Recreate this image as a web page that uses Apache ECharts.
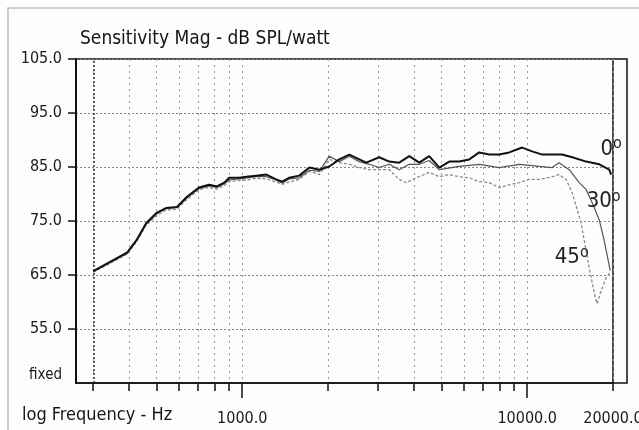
<!DOCTYPE html>
<html><head><meta charset="utf-8">
<script src="https://cdn.jsdelivr.net/npm/echarts@6/dist/echarts.min.js"></script>
<style>html,body{margin:0;padding:0;background:#fdfdfd}#c{width:639px;height:430px}</style>
</head><body><div id="c"></div>
<script>
// ---- data ----
const freq0 = [300, 340, 395, 425, 460, 500, 540, 590, 640, 705, 765, 815, 865, 900, 975, 1035, 1120, 1215, 1315, 1380, 1460, 1585, 1720, 1865, 2020, 2190, 2375, 2575, 2725, 3025, 3280, 3555, 3855, 4180, 4530, 4915, 5325, 5775, 6260, 6785, 7360, 7975, 8650, 9600, 10400, 11300, 12250, 13250, 14400, 16100, 17900, 19400, 19700];
const spl0 = [65.7, 67.3, 69.2, 71.4, 74.6, 76.5, 77.4, 77.6, 79.5, 81.2, 81.7, 81.4, 82.1, 83.0, 83.0, 83.2, 83.4, 83.6, 82.7, 82.3, 83.0, 83.4, 84.9, 84.5, 85.1, 86.4, 87.3, 86.4, 85.8, 86.8, 86.0, 85.8, 87.0, 85.8, 87.0, 84.9, 86.0, 86.0, 86.4, 87.7, 87.3, 87.3, 87.7, 88.6, 87.9, 87.3, 87.3, 87.3, 86.8, 86.0, 85.5, 84.5, 83.6];
const freq30 = [300, 340, 395, 425, 460, 500, 540, 590, 640, 705, 765, 815, 865, 900, 975, 1035, 1120, 1215, 1315, 1380, 1460, 1585, 1720, 1865, 2020, 2190, 2375, 2575, 2790, 3025, 3280, 3555, 3855, 4180, 4530, 4915, 5775, 6785, 7975, 9375, 11020, 12240, 12930, 14040, 15220, 16110, 16900, 17900, 18620, 19090, 19560];
const spl30 = [65.6, 67.2, 69.0, 71.3, 74.4, 76.3, 77.3, 77.5, 79.3, 81.0, 81.5, 81.2, 81.9, 82.6, 82.8, 83.0, 83.2, 83.2, 82.6, 82.0, 82.8, 83.0, 84.4, 84.2, 87.0, 86.0, 87.0, 86.0, 85.5, 84.9, 85.5, 84.5, 85.5, 85.5, 86.2, 84.5, 85.1, 85.5, 84.9, 85.5, 85.1, 84.9, 85.8, 84.5, 82.1, 80.8, 78.4, 75.2, 71.4, 68.6, 65.8];
const freq45 = [300, 340, 395, 425, 460, 500, 540, 590, 640, 705, 765, 815, 865, 900, 975, 1035, 1120, 1215, 1315, 1380, 1460, 1585, 1720, 1865, 2020, 2190, 2375, 2575, 2790, 3100, 3280, 3555, 3760, 4080, 4530, 4915, 5325, 5775, 6260, 6785, 7360, 7975, 8650, 9375, 10160, 11020, 12240, 12930, 13700, 14380, 14980, 15470, 15850, 16240, 16770, 17330, 17600, 18180, 18930, 19560];
const spl45 = [65.5, 67.0, 68.9, 71.1, 74.2, 76.0, 77.0, 77.2, 79.0, 80.8, 81.2, 80.9, 81.6, 82.3, 82.5, 82.6, 82.9, 82.8, 82.2, 81.8, 82.2, 82.7, 84.2, 83.6, 86.4, 85.8, 85.5, 84.9, 84.5, 84.5, 84.5, 82.7, 82.1, 83.0, 84.0, 83.2, 83.6, 83.2, 83.0, 82.3, 82.1, 81.2, 81.7, 82.1, 82.7, 82.7, 83.2, 83.6, 82.7, 80.2, 77.1, 74.6, 71.4, 68.3, 64.5, 60.8, 59.7, 62.1, 64.5, 65.5];

const gridFreqs = [300, 400, 500, 600, 700, 800, 900, 1000, 2000, 3000, 4000, 5000, 6000, 7000, 8000, 9000, 10000, 20000];
const majorTickFreqs = [1000, 10000];
const xLabelFreqs = [1000, 10000, 20000];
const xTickLabels = ['1000.0', '10000.0', '20000.0'];
const yTickValues = [55, 65, 75, 85, 95, 105];
const yLabelValues = [45, 55, 65, 75, 85, 95, 105];
const yTickLabels = ['fixed', '55.0', '65.0', '75.0', '85.0', '95.0', '105.0'];
const seriesNames = ['0', '30', '45'];
const fMin = 261, fMax = 20000, yMin = 45, yMax = 105;

// ---- build ----
const lg = v => Math.log10(v);
const pairs = (f, s) => f.map((x, i) => [lg(x), s[i]]);
const COND = "'DejaVu Sans Condensed', 'DejaVu Sans', sans-serif";
const xLabelLogs = xLabelFreqs.map(lg);

function degLabel(name, coord) {
  return {
    symbolSize: 0,
    silent: true,
    data: [{ coord: coord }],
    label: {
      show: true, position: 'inside',
      formatter: '{n|' + name + '}{d|o}',
      rich: {
        n: { fontFamily: COND, fontSize: 22, color: '#222', lineHeight: 26 },
        d: { fontFamily: COND, fontSize: 16, color: '#222', lineHeight: 14, verticalAlign: 'top' }
      }
    }
  };
}

const chart = echarts.init(document.getElementById('c'), null, { renderer: 'canvas' });
chart.setOption({
  backgroundColor: '#fdfdfd',
  animation: false,
  title: [
    { text: 'Sensitivity Mag - dB SPL/watt', left: 80, top: 30, padding: 0,
      textStyle: { fontFamily: COND, fontSize: 19, fontWeight: 'normal', color: '#151515' } },
    { text: 'log Frequency - Hz', left: 22, top: 406, padding: 0,
      textStyle: { fontFamily: COND, fontSize: 18, fontWeight: 'normal', color: '#151515' } }
  ],
  grid: { left: 76, right: 26, top: 59, bottom: 47, outerBoundsMode: 'none', containLabel: false,
          show: true, borderColor: '#111', borderWidth: 1.5, backgroundColor: 'transparent' },
  xAxis: [
    {
      type: 'value', min: lg(fMin), max: lg(fMax), position: 'bottom',
      axisLine: { show: true, lineStyle: { color: '#111', width: 1.5 } },
      axisTick: { show: true, length: 8, customValues: gridFreqs.map(lg), lineStyle: { color: '#111', width: 1.5 } },
      axisLabel: {
        show: true, customValues: xLabelLogs, margin: 28, hideOverlap: false,
        fontFamily: COND, fontSize: 16, color: '#1a1a1a',
        formatter: v => { const i = xLabelLogs.findIndex(l => Math.abs(l - v) < 1e-6); return i >= 0 ? xTickLabels[i] : ''; }
      },
      splitLine: { show: true, lineStyle: { color: '#9a9a9a', type: [2, 4], width: 1 } }
    },
    {
      type: 'value', min: lg(fMin), max: lg(fMax), position: 'bottom',
      axisLine: { show: false },
      axisTick: { show: true, length: 15, customValues: majorTickFreqs.map(lg), lineStyle: { color: '#111', width: 1.5 } },
      axisLabel: { show: false },
      splitLine: { show: false }
    }
  ],
  yAxis: {
    type: 'value', min: yMin, max: yMax,
    axisLine: { show: true, lineStyle: { color: '#111', width: 2 } },
    axisTick: { show: true, length: 8, customValues: yTickValues, lineStyle: { color: '#111', width: 1.5 } },
    axisLabel: {
      show: true, customValues: yLabelValues, margin: 14,
      fontFamily: COND, fontSize: 16, color: '#1a1a1a',
      formatter: v => { const i = yLabelValues.indexOf(Math.round(v)); return i === 0 ? '{f|' + yTickLabels[0] + '}' : yTickLabels[i]; },
      rich: { f: { fontFamily: COND, fontSize: 15, color: '#1a1a1a', padding: [0, 0, 15, 0] } }
    },
    splitLine: { show: true, lineStyle: { color: '#888', type: [2, 2], width: 1 } }
  },
  series: [
    {
      name: seriesNames[2], type: 'line', data: pairs(freq45, spl45), showSymbol: false, symbol: 'none',
      lineStyle: { color: '#8a8a8a', width: 1.3, type: [3, 2] }, z: 3,
      markPoint: degLabel(seriesNames[2], [lg(14330), 68.2])
    },
    {
      name: seriesNames[1], type: 'line', data: pairs(freq30, spl30), showSymbol: false, symbol: 'none',
      lineStyle: { color: '#555', width: 1.2 }, z: 4,
      markPoint: degLabel(seriesNames[1], [lg(18550), 78.6])
    },
    {
      name: seriesNames[0], type: 'line', data: pairs(freq0, spl0), showSymbol: false, symbol: 'none',
      lineStyle: { color: '#111', width: 2 }, z: 5,
      markPoint: degLabel(seriesNames[0], [lg(19710), 88.3]),
      markLine: {
        silent: true, symbol: ['none', 'none'], label: { show: false },
        lineStyle: { color: '#333', type: [2, 2], width: 1.5 },
        data: [{ xAxis: lg(gridFreqs[0]) }]
      }
    }
  ],
  graphic: [
    { type: 'rect', silent: true, shape: { x: 8, y: 8, width: 700, height: 500 }, style: { fill: 'none', stroke: '#bdbdbd', lineWidth: 1.5 } },
    { type: 'polyline', silent: true, shape: { points: [[613, 59], [627, 59], [627, 383], [613, 383]] }, style: { fill: 'none', stroke: '#111', lineWidth: 1.5 } }
  ]
});
</script></body></html>
